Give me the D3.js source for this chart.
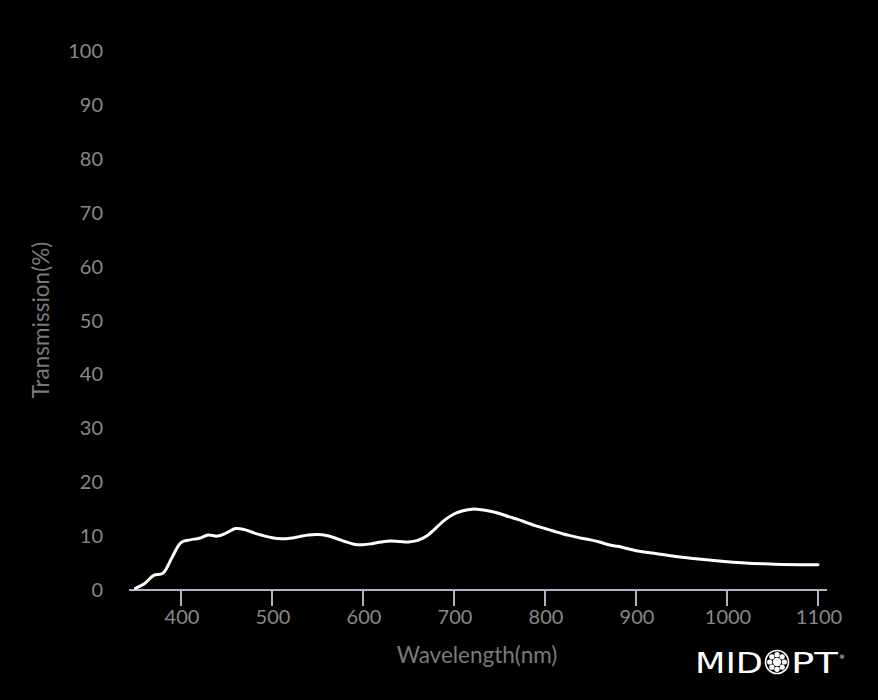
<!DOCTYPE html>
<html>
<head>
<meta charset="utf-8">
<script src="https://cdn.jsdelivr.net/npm/d3@7"></script>
<style>
  html, body { margin: 0; padding: 0; background: #000; }
  svg { display: block; }
</style>
</head>
<body>
<svg id="chart" width="878" height="700"></svg>
<script>
const wavelengths = [350,360,370,380,390,400,410,420,430,440,450,460,470,480,490,500,510,520,530,540,550,560,570,580,590,600,610,620,630,640,650,660,670,680,690,700,710,720,730,740,750,760,770,780,790,800,810,820,830,840,850,860,870,880,890,900,920,940,960,980,1000,1020,1040,1060,1080,1100];
const transmission = [0.3,1.2,2.7,3.1,6.0,8.8,9.3,9.6,10.2,10.0,10.6,11.4,11.2,10.6,10.1,9.7,9.5,9.6,9.9,10.2,10.3,10.1,9.6,9.0,8.5,8.4,8.6,8.9,9.1,9.0,8.9,9.2,10.0,11.5,13.0,14.1,14.7,15.0,14.9,14.6,14.2,13.6,13.1,12.5,11.9,11.4,10.9,10.4,10.0,9.6,9.3,8.9,8.4,8.1,7.7,7.3,6.8,6.3,5.9,5.55,5.25,5.0,4.85,4.75,4.7,4.7];
const xTicks = [400,500,600,700,800,900,1000,1100];
const yTicks = [0,10,20,30,40,50,60,70,80,90,100];
const xTitle = "Wavelength(nm)";
const yTitle = "Transmission(%)";

const svg = d3.select("#chart");
const font = "Lato, 'Open Sans', sans-serif";

const x = d3.scaleLinear().domain([400, 1100]).range([181, 818]);
const y = d3.scaleLinear().domain([0, 100]).range([590, 51]);

// X axis
const xAxis = svg.append("g").attr("transform", "translate(0,590)");
xAxis.append("line")
  .attr("x1", 129).attr("x2", 827).attr("y1", 0).attr("y2", 0)
  .attr("stroke", "#aab6c4").attr("stroke-width", 2);
xAxis.selectAll("line.tick").data(xTicks).enter().append("line")
  .attr("class", "tick")
  .attr("x1", d => x(d)).attr("x2", d => x(d))
  .attr("y1", 0).attr("y2", 16)
  .attr("stroke", "#aab6c4").attr("stroke-width", 2);
xAxis.selectAll("text").data(xTicks).enter().append("text")
  .attr("x", d => x(d) + 1).attr("y", 34)
  .attr("text-anchor", "middle")
  .attr("fill", "#888888")
  .style("font-family", font).style("font-size", "20px")
  .text(d => d);

// Y labels
svg.append("g").selectAll("text").data(yTicks).enter().append("text")
  .attr("x", 103).attr("y", d => y(d) + 7)
  .attr("text-anchor", "end")
  .attr("fill", "#888888")
  .style("font-family", font).style("font-size", "20px")
  .text(d => d);

// Titles
svg.append("text")
  .attr("x", 477).attr("y", 663)
  .attr("text-anchor", "middle")
  .attr("fill", "#7a7a7a")
  .style("font-family", font).style("font-size", "22.5px")
  .text(xTitle);
svg.append("text")
  .attr("transform", "translate(49,320) rotate(-90)")
  .attr("text-anchor", "middle")
  .attr("fill", "#7a7a7a")
  .style("font-family", font).style("font-size", "22.5px")
  .text(yTitle);

// Curve
const data = wavelengths.map((w, i) => ({ w, t: transmission[i] }));
const line = d3.line().x(d => x(d.w)).y(d => y(d.t)).curve(d3.curveCatmullRom.alpha(0.5));
svg.append("path").datum(data)
  .attr("d", line)
  .attr("fill", "none")
  .attr("stroke", "#ffffff")
  .attr("stroke-width", 3)
  .attr("stroke-linecap", "round")
  .attr("stroke-linejoin", "round");

// Logo
const logo = svg.append("g");
logo.append("text").attr("x", 695).attr("y", 673)
  .attr("fill", "#fff")
  .style("font-family", "'DejaVu Sans', sans-serif").style("font-size", "28px")
  .attr("textLength", 68).attr("lengthAdjust", "spacingAndGlyphs")
  .text("MID");
const cx = 777, cy = 662;
logo.append("circle").attr("cx", cx).attr("cy", cy).attr("r", 11.5)
  .attr("fill", "none").attr("stroke", "#fff").attr("stroke-width", 1.6);
logo.append("circle").attr("cx", cx).attr("cy", cy).attr("r", 4.2).attr("fill", "#fff");
d3.range(8).forEach(i => {
  const a = i * Math.PI / 4;
  logo.append("circle")
    .attr("cx", cx + 7.3 * Math.cos(a)).attr("cy", cy + 7.3 * Math.sin(a))
    .attr("r", 2.6).attr("fill", "#fff");
});
logo.append("text").attr("x", 791).attr("y", 673)
  .attr("fill", "#fff")
  .style("font-family", "'DejaVu Sans', sans-serif").style("font-size", "28px")
  .attr("textLength", 47).attr("lengthAdjust", "spacingAndGlyphs")
  .text("PT");
logo.append("text").attr("x", 839).attr("y", 659)
  .attr("fill", "#fff")
  .style("font-family", "'DejaVu Sans', sans-serif").style("font-size", "6px")
  .text("®");
</script>
</body>
</html>
